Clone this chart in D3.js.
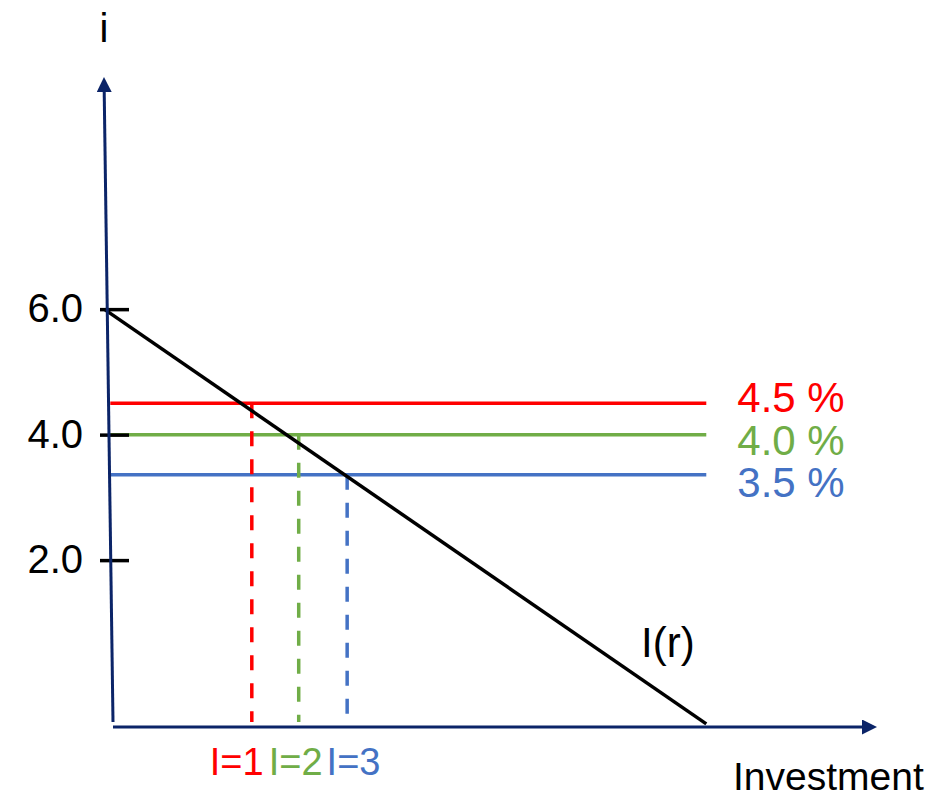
<!DOCTYPE html>
<html>
<head>
<meta charset="utf-8">
<script src="https://cdn.jsdelivr.net/npm/d3@7"></script>
<style>
  body { margin: 0; background: #fff; }
  text { font-family: "Liberation Sans", Arial, sans-serif; }
</style>
</head>
<body>
<div id="chart"></div>
<script>
// interest rate levels as drawn, with their labels and colours
const rateLevels = [4.5, 4.0, 3.36];
const rateLabels = ["4.5 %", "4.0 %", "3.5 %"];
const rateColors = ["#ff0000", "#70ad47", "#4472c4"];
// investment reached at each rate (schematic units along the x axis)
const investAtRate = [18.7, 24.8, 31.1];
const investLabels = ["I=1", "I=2", "I=3"];
// the I(r) schedule, end points as (investment, i)
const curveInvest = [-0.5, 77.8];
const curveRate = [6.0, -0.61];
// y axis ticks
const yTicks = [2.0, 4.0, 6.0];
// extent of the axes and of the horizontal rate lines
const xDomain = [0, 100];
const yDomain = [-0.66, 9.7];
const rateLineSpan = [0.3, 77.8];

const NAVY = "#0b2468";
const width = 936, height = 800;

let xScale = d3.scaleLinear().domain(xDomain).range([108, 877]);
let yScale = d3.scaleLinear().domain(yDomain).range([727, 77]);

let svg = d3.select("#chart").append("svg")
    .attr("width", width)
    .attr("height", height);

// arrow head for both axes
svg.append("defs").append("marker")
    .attr("id", "arrow")
    .attr("viewBox", "0 0 10 10")
    .attr("refX", 0).attr("refY", 5)
    .attr("markerWidth", 15).attr("markerHeight", 15)
    .attr("markerUnits", "userSpaceOnUse")
    .attr("orient", "auto")
    .append("path")
    .attr("d", "M0,0 L10,5 L0,10 z")
    .attr("fill", NAVY);

// horizontal rate lines
svg.append("g").selectAll("line").data(rateLevels).enter().append("line")
    .attr("x1", xScale(rateLineSpan[0]))
    .attr("x2", xScale(rateLineSpan[1]))
    .attr("y1", d => yScale(d))
    .attr("y2", d => yScale(d))
    .attr("stroke", (d, i) => rateColors[i])
    .attr("stroke-width", 3.5);

// dashed drop lines down to the x axis
svg.append("g").selectAll("line").data(investAtRate).enter().append("line")
    .attr("x1", d => xScale(d))
    .attr("x2", d => xScale(d))
    .attr("y1", (d, i) => yScale(rateLevels[i]))
    .attr("y2", yScale(yDomain[0]) - 5)
    .attr("stroke", (d, i) => rateColors[i])
    .attr("stroke-width", 3.5)
    .attr("stroke-dasharray", "15,13");

// I(r) schedule
let curve = curveInvest.map((d, i) => [xScale(d), yScale(curveRate[i])]);
svg.append("path")
    .attr("d", d3.line()(curve))
    .attr("stroke", "black")
    .attr("stroke-width", 3.5)
    .attr("fill", "none");

// y ticks with labels
let yAxis = d3.axisLeft(yScale).tickValues(yTicks)
    .tickFormat(d3.format(".1f"))
    .tickSize(-29).tickPadding(17);
let yAxisG = svg.append("g")
    .attr("transform", "translate(100,0)")
    .call(yAxis);
yAxisG.select(".domain").remove();
yAxisG.selectAll(".tick line").attr("stroke", "black").attr("stroke-width", 3.5);
yAxisG.selectAll(".tick text")
    .attr("fill", "black")
    .style("font-size", "40px")
    .style("font-family", "'Liberation Sans', Arial, sans-serif");

// the two axes (y axis leans slightly, as drawn)
let yBottom = [xScale(0) + 5, yScale(yDomain[0]) - 5];
let yTip = [xScale(0) - 4, yScale(yDomain[1])];
let len = Math.hypot(yTip[0] - yBottom[0], yTip[1] - yBottom[1]);
let yBase = [yTip[0] - 15 * (yTip[0] - yBottom[0]) / len, yTip[1] - 15 * (yTip[1] - yBottom[1]) / len];
svg.append("path")
    .attr("d", d3.line()([yBottom, yBase]))
    .attr("stroke", NAVY).attr("stroke-width", 3)
    .attr("marker-end", "url(#arrow)");

svg.append("path")
    .attr("d", d3.line()([[xScale(0) + 5, yScale(yDomain[0])], [xScale(xDomain[1]) - 15, yScale(yDomain[0])]]))
    .attr("stroke", NAVY).attr("stroke-width", 3)
    .attr("marker-end", "url(#arrow)");

// rate labels, stacked on the right
svg.append("g").selectAll("text").data(rateLabels).enter().append("text")
    .attr("x", xScale(rateLineSpan[1]) + 31)
    .attr("y", (d, i) => yScale(rateLevels[0]) + 9 + i * 42.5)
    .attr("fill", (d, i) => rateColors[i])
    .style("font-size", "42px")
    .text(d => d);

// investment labels, set one after another under the x axis
let labelX = xScale(investAtRate[0]) - 42;
const labelGaps = [5, 4];
investLabels.forEach((lab, i) => {
    let t = svg.append("text")
        .attr("x", labelX)
        .attr("y", 775)
        .attr("fill", rateColors[i])
        .style("font-size", "38px")
        .text(lab);
    labelX += t.node().getComputedTextLength() + (labelGaps[i] || 0);
});

// axis titles and curve label
svg.append("text")
    .attr("x", xScale(0) - 4).attr("y", 42)
    .attr("text-anchor", "middle")
    .style("font-size", "40px")
    .text("i");

svg.append("text")
    .attr("x", 733).attr("y", 790)
    .style("font-size", "39px")
    .text("Investment");

svg.append("text")
    .attr("x", 641).attr("y", 657)
    .style("font-size", "42px")
    .text("I(r)");
</script>
</body>
</html>
